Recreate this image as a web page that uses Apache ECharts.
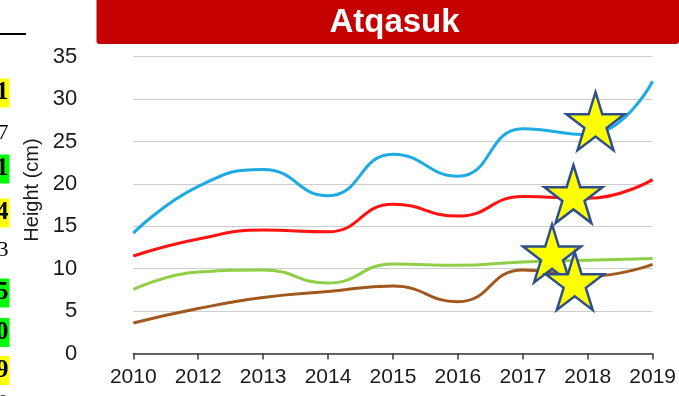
<!DOCTYPE html>
<html>
<head>
<meta charset="utf-8">
<script src="https://cdn.jsdelivr.net/npm/echarts@6/dist/echarts.min.js"></script>
<style>
  html, body { margin: 0; padding: 0; background: #ffffff; }
  #chart { width: 679px; height: 396px; }
</style>
</head>
<body>
<div id="chart"></div>
<script>
// Survey years on the category axis (no 2011 survey)
const years = ['2010', '2012', '2013', '2014', '2015', '2016', '2017', '2018', '2019'];

// Mean plant height (cm) per year, one array per line
const blueHeights  = [14.2, 19.7, 21.7, 18.6, 23.5, 20.9, 26.5, 25.8, 32.1];
const redHeights   = [11.5, 13.5, 14.55, 14.35, 17.6, 16.2, 18.5, 18.3, 20.5];
const greenHeights = [7.55, 9.6, 9.85, 8.3, 10.55, 10.4, 10.8, 11.0, 11.2];
const brownHeights = [3.6, 5.3, 6.6, 7.3, 7.95, 6.1, 9.85, 9.1, 10.5];

// Star markers: [position along the year axis (category index), height cm]
const starPoints = [[7.12, 27.4], [6.78, 18.8], [6.45, 11.8], [6.80, 8.55]];

// Height axis range
const yMin = 0, yMax = 35, yStep = 5;

// Edge of the neighbouring table column
const cellTexts = ['1', '7', '1', '4', '3', '5', '0', '9', '0'];
const cellFills = ['#ffff00', null, '#00ff00', '#ffff00', null, '#00ff00', '#00ff00', '#ffff00', null];

// Vertical centres of the table rows (layout)
const cellRowY = [93, 133, 169, 213, 250, 293, 332.5, 370.5, 403];

const starPath = 'path://M50 0 L61.2 34.55 L97.55 34.55 L68.16 55.9 L79.39 90.45 L50 69.1 L20.61 90.45 L31.84 55.9 L2.45 34.55 L38.8 34.55 Z';

const chart = echarts.init(document.getElementById('chart'), null, { renderer: 'canvas' });

function lineSeries(name, data, color) {
  return {
    name: name,
    type: 'line',
    data: data,
    smooth: 0.5,
    symbol: 'none',
    lineStyle: { color: color, width: 3 },
    z: 3
  };
}

const cellGraphics = cellTexts.map(function (t, i) {
  const fill = cellFills[i];
  return {
    type: 'text',
    x: 9.5,
    y: cellRowY[i],
    z: 10,
    style: {
      text: t,
      align: 'right',
      verticalAlign: 'middle',
      font: (fill ? 'bold 25px' : '22px') + ' "Liberation Serif", serif',
      fill: '#000000',
      backgroundColor: fill || 'transparent',
      padding: [1, 1, 1, 20],
      lineHeight: 27
    }
  };
});

chart.setOption({
  animation: false,
  backgroundColor: '#ffffff',
  grid: { left: 133.3, right: 25, top: 56.7, bottom: 42.5, containLabel: false },
  xAxis: [
    {
      type: 'category',
      data: years,
      boundaryGap: false,
      axisLine: { show: true, lineStyle: { color: '#3a3a3a', width: 1.5 } },
      axisTick: { show: true, alignWithLabel: true, length: 6, lineStyle: { color: '#3a3a3a', width: 1.5 } },
      axisLabel: {
        color: '#1a1a1a',
        fontFamily: '"Liberation Sans", Arial, sans-serif',
        fontSize: 21,
        margin: 13
      },
      splitLine: { show: false }
    },
    {
      type: 'value',
      min: 0,
      max: years.length - 1,
      show: false
    }
  ],
  yAxis: {
    type: 'value',
    min: yMin,
    max: yMax,
    interval: yStep,
    axisLine: { show: false },
    axisTick: { show: false },
    axisLabel: {
      color: '#1a1a1a',
      fontFamily: '"Liberation Sans", Arial, sans-serif',
      fontSize: 22,
      margin: 56
    },
    splitLine: { show: true, lineStyle: { color: '#cdcdcd', width: 1.2 } }
  },
  series: [
    lineSeries('blue', blueHeights, '#1eaae2'),
    lineSeries('red', redHeights, '#ff1212'),
    lineSeries('green', greenHeights, '#8fcf46'),
    lineSeries('brown', brownHeights, '#a1581e'),
    {
      name: 'stars',
      type: 'scatter',
      xAxisIndex: 1,
      data: starPoints,
      symbol: starPath,
      symbolSize: [58, 58],
      itemStyle: { color: '#ffff00', borderColor: '#2f4f8c', borderWidth: 2.5, opacity: 1 },
      emphasis: { disabled: true },
      z: 5
    }
  ],
  graphic: [
    {
      type: 'rect',
      shape: { x: 96.5, y: 0, width: 582.5, height: 44, r: [0, 0, 3, 3] },
      style: { fill: '#c40000' },
      z: 10
    },
    {
      type: 'text',
      x: 394.5,
      y: 23,
      z: 11,
      style: {
        text: 'Atqasuk',
        align: 'center',
        verticalAlign: 'middle',
        font: 'bold 33px "Liberation Sans", Arial, sans-serif',
        fill: '#ffffff'
      }
    },
    {
      type: 'rect',
      shape: { x: 0, y: 33, width: 26, height: 2 },
      style: { fill: '#000000' },
      z: 10
    },
    {
      type: 'text',
      x: 32,
      y: 190,
      rotation: Math.PI / 2,
      z: 10,
      style: {
        text: 'Height (cm)',
        align: 'center',
        verticalAlign: 'middle',
        font: '20px "Liberation Sans", Arial, sans-serif',
        fill: '#1a1a1a'
      }
    }
  ].concat(cellGraphics)
});
</script>
</body>
</html>
